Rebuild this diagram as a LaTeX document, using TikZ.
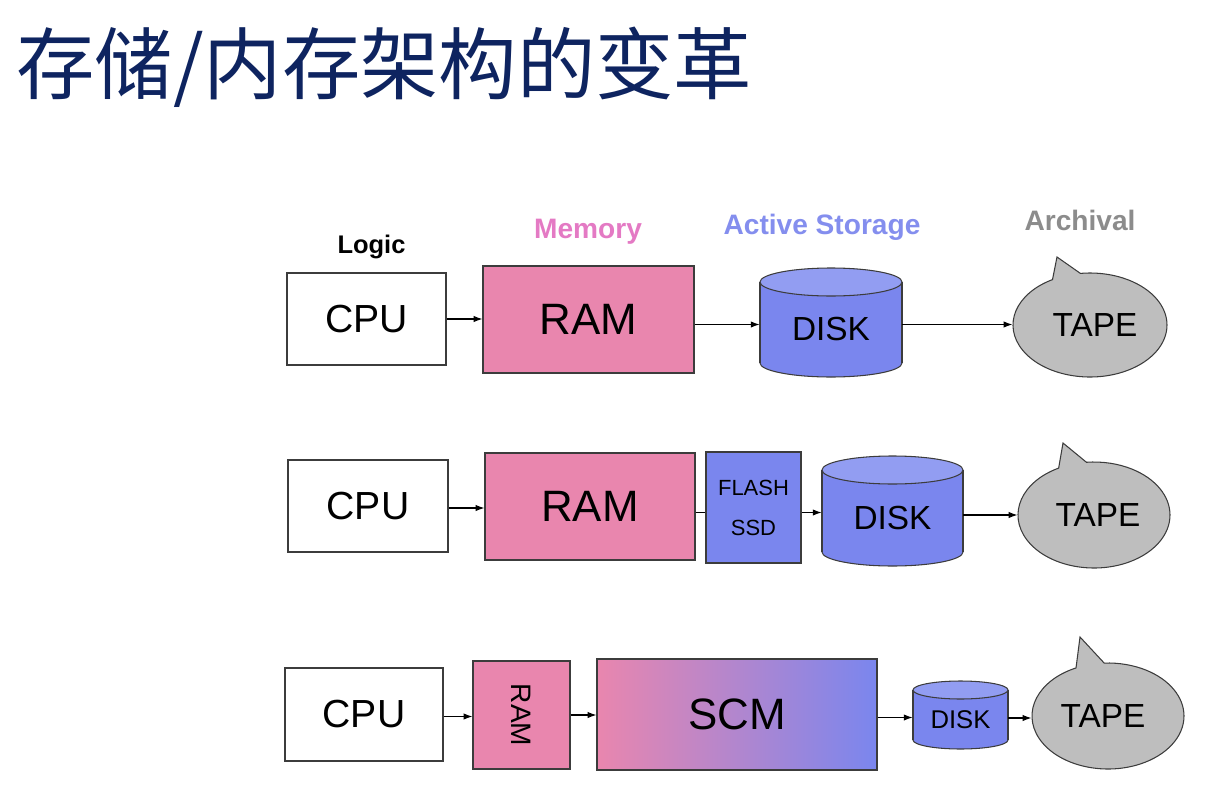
\documentclass[tikz,border=0pt]{standalone}
\usepackage{fontspec}
\setmainfont{Liberation Sans}
\newfontfamily\cjk{Noto Sans CJK SC}
\usetikzlibrary{shapes.callouts,arrows.meta}
\newcommand\PX{0.02cm}
\definecolor{titlec}{RGB}{14,36,96}
\definecolor{bordc}{RGB}{60,60,60}
\definecolor{rampink}{RGB}{233,134,174}
\definecolor{diskblue}{RGB}{122,134,238}
\definecolor{disktop}{RGB}{146,157,242}
\definecolor{tapegray}{RGB}{190,190,190}
\definecolor{memc}{RGB}{228,122,196}
\definecolor{actc}{RGB}{132,142,238}
\definecolor{arcc}{RGB}{140,140,140}
\newcommand\diskat[7]{% name, cx, cy, w, h, e, font size
  \fill[diskblue,draw=bordc,line width=0.6pt] ({#2},{#3+#5/2-#6}) ellipse[x radius={#4/2}, y radius={#6}];
  \fill[diskblue] ({#2-#4/2},{#3-#5/2+#6}) rectangle ({#2+#4/2},{#3+#5/2-#6});
  \draw[bordc,line width=0.6pt] ({#2-#4/2},{#3-#5/2+#6}) -- ({#2-#4/2},{#3+#5/2-#6})
        ({#2+#4/2},{#3-#5/2+#6}) -- ({#2+#4/2},{#3+#5/2-#6});
  \fill[disktop,draw=bordc,line width=0.6pt] ({#2},{#3-#5/2+#6}) ellipse[x radius={#4/2}, y radius={#6}];
  \node[inner sep=0, minimum width=#4*\PX, minimum height=#5*\PX] (#1) at (#2,#3) {};
  \node[inner sep=0, font=\fontsize{#7}{#7}\selectfont] (#1t) at ({#2},{#3+#6/2}) {DISK};
}
\begin{document}
\begin{tikzpicture}[x=0.02cm,y=-0.02cm,
  bx/.style={draw=bordc, line width=0.6pt, inner sep=0},
  cpubox/.style={bx, fill=white, font=\fontsize{22.3}{24}\selectfont},
  rambox/.style={bx, fill=rampink, font=\fontsize{25}{28}\selectfont},
  tape/.style={ellipse callout, callout pointer arc=22, draw=bordc, fill=tapegray, line width=0.6pt, inner sep=0, font=\fontsize{19}{22}\selectfont},
  hdr/.style={font=\bfseries\fontsize{16}{18}\selectfont, inner sep=0, anchor=base},
  arr/.style={-{Latex[length=5pt,width=3.6pt]}, line width=0.6pt, black},
  ln/.style={line width=0.6pt, black}]
\useasboundingbox (0,0) rectangle (1208,798);

% title
\node[anchor=base west, inner sep=0, text=titlec, font=\cjk\fontsize{44.6}{50}\selectfont] (title) at (16,93) {存储/内存架构的变革};

% headers
\node[hdr, font=\bfseries\fontsize{14.5}{16}\selectfont] (hlogic) at (371.5,253) {Logic};
\node[hdr, text=memc] (hmem) at (588,238) {Memory};
\node[hdr, text=actc] (hact) at (822,234) {Active Storage};
\node[hdr, text=arcc] (harc) at (1080,230) {Archival};

% row 1
\node[cpubox, minimum width=159*\PX, minimum height=92*\PX] (cpu1) at (366.5,319) {CPU};
\node[rambox, minimum width=211*\PX, minimum height=107*\PX] (ram1) at (588.5,319.5) {RAM};
\diskat{disk1}{831}{322.5}{142}{109}{14}{19}
\node[tape, minimum width=154*\PX, minimum height=104*\PX, callout absolute pointer={(1057,257)}] (tape1) at (1090,325) {\hspace*{0.2cm}TAPE};
\draw[arr] (cpu1.east) -- (cpu1.east -| ram1.west);
\draw[arr] ([yshift=-5*\PX]ram1.east) -- ([yshift=-5*\PX]ram1.east -| disk1.west);
\draw[arr] ([yshift=-2*\PX]disk1.east) -- ([yshift=-2*\PX]disk1.east -| tape1.west);

% row 2
\node[cpubox, minimum width=160*\PX, minimum height=92*\PX] (cpu2) at (368,506) {CPU};
\node[rambox, minimum width=210*\PX, minimum height=107*\PX] (ram2) at (590,506.5) {RAM};
\node[bx, fill=diskblue, minimum width=95*\PX, minimum height=111*\PX] (flash) at (753.5,507.5) {};
\node[inner sep=0, font=\fontsize{12.5}{14}\selectfont] (flasht) at (753.5,488) {FLASH};
\node[inner sep=0, font=\fontsize{12.5}{14}\selectfont] (ssdt) at (753.5,528) {SSD};
\diskat{disk2}{892.5}{511}{141}{110}{14}{19}
\node[tape, minimum width=152*\PX, minimum height=106*\PX, callout absolute pointer={(1063,443)}] (tape2) at (1094,515) {\hspace*{0.16cm}TAPE};
\draw[arr] ([yshift=-2*\PX]cpu2.east) -- ([yshift=-2*\PX]cpu2.east -| ram2.west);
\draw[ln] ([yshift=-6*\PX]ram2.east) -- ([yshift=-6*\PX]ram2.east -| flash.west);
\draw[arr] ([yshift=-5*\PX]flash.east) -- ([yshift=-5*\PX]flash.east -| disk2.west);
\draw[arr] ([yshift=-4*\PX]disk2.east) -- ([yshift=-4*\PX]disk2.east -| tape2.west);

% row 3
\node[cpubox, minimum width=158*\PX, minimum height=93*\PX] (cpu3) at (364,714.5) {CPU};
\node[bx, fill=rampink, minimum width=97*\PX, minimum height=108*\PX, font=\fontsize{16}{18}\selectfont] (ram3) at (521.5,715) {\rotatebox{-90}{RAM}};
\node[bx, left color=rampink, right color=diskblue, minimum width=280*\PX, minimum height=111*\PX, font=\fontsize{25}{28}\selectfont] (scm) at (737,714.5) {SCM};
\diskat{disk3}{960.5}{715}{95}{68}{9}{14.6}
\node[tape, minimum width=152*\PX, minimum height=106*\PX, callout absolute pointer={(1080,637)}] (tape3) at (1108,716) {TAPE\hspace*{0.2cm}};
\draw[arr] ([yshift=-2*\PX]cpu3.east) -- ([yshift=-2*\PX]cpu3.east -| ram3.west);
\draw[arr] (ram3.east) -- (ram3.east -| scm.west);
\draw[arr] ([yshift=-3*\PX]scm.east) -- ([yshift=-3*\PX]scm.east -| disk3.west);
\draw[arr] ([yshift=-3*\PX]disk3.east) -- ([yshift=-3*\PX]disk3.east -| tape3.west);
\end{tikzpicture}
\end{document}
